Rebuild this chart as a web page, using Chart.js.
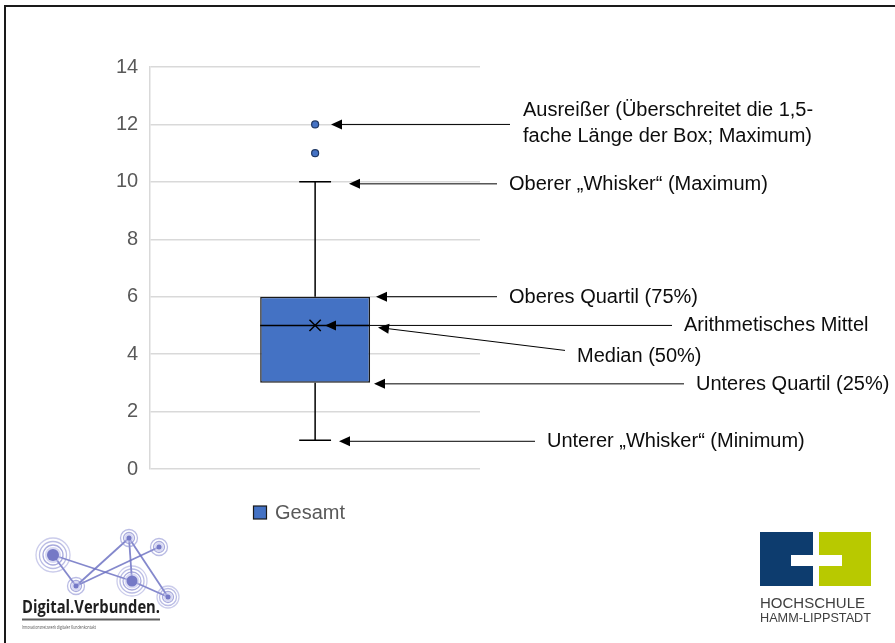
<!DOCTYPE html>
<html>
<head>
<meta charset="utf-8">
<script src="https://cdn.jsdelivr.net/npm/chart.js@4.4.1/dist/chart.umd.min.js"></script>
<style>
  html, body { margin: 0; padding: 0; background: #fff; }
  #wrap { position: relative; width: 895px; height: 643px; }
  canvas { display: block; }
</style>
</head>
<body>
<div id="wrap"><canvas id="c" width="895" height="643"></canvas></div>
<script>
// ---- data ----
const categories = ['Gesamt'];
const whiskerMin = [1];
const quartil1 = [3];
const medians = [5];
const means = [5];
const quartil3 = [6];
const whiskerMax = [10];
const outlierValues = [11, 12];
const yTickMin = 0, yTickMax = 14, yTickStep = 2;

// annotation texts and the value each arrow points at
const annotationTexts = [
  ['Ausreißer (Überschreitet die 1,5-', 'fache Länge der Box; Maximum)'],
  ['Oberer \u201EWhisker\u201C (Maximum)'],
  ['Oberes Quartil (75%)'],
  ['Arithmetisches Mittel'],
  ['Median (50%)'],
  ['Unteres Quartil (25%)'],
  ['Unterer \u201EWhisker\u201C (Minimum)']
];
const annotationTargets = [12, 10, 6, 5, 5, 3, 1];

// layout of annotations (pixels): arrow tip x, line end x, text x, dy of arrow, text offsets
const annotationLayout = [
  { tipX: 331, endX: 510, textX: 523, dyTip: 0, dyEnd: 0, lineDy: [-14, 12] },
  { tipX: 349, endX: 497, textX: 509, dyTip: 2, dyEnd: 2, lineDy: [1] },
  { tipX: 376, endX: 497, textX: 509, dyTip: 0, dyEnd: 0, lineDy: [1] },
  { tipX: 325, endX: 672, textX: 684, dyTip: 0, dyEnd: 0, lineDy: [0] },
  { tipX: 378, endX: 565, textX: 577, dyTip: 2, dyEnd: 25, lineDy: [29] },
  { tipX: 374, endX: 684, textX: 696, dyTip: 1, dyEnd: 1, lineDy: [1] },
  { tipX: 339, endX: 535, textX: 547, dyTip: 1, dyEnd: 1, lineDy: [0] }
];

const FONT = "'Liberation Sans', Arial, sans-serif";
const BOX_BLUE = '#4472C4';
const BOX_INDEX = 2;

function arrow(ctx, x1, y1, x2, y2) {
  const ang = Math.atan2(y2 - y1, x2 - x1);
  const L = 11, H = 5;
  ctx.save();
  ctx.strokeStyle = '#000';
  ctx.lineWidth = 1;
  ctx.beginPath();
  ctx.moveTo(x1, y1);
  ctx.lineTo(x2 - Math.cos(ang) * L * 0.8, y2 - Math.sin(ang) * L * 0.8);
  ctx.stroke();
  ctx.fillStyle = '#000';
  ctx.beginPath();
  ctx.moveTo(x2, y2);
  ctx.lineTo(x2 - Math.cos(ang) * L + Math.sin(ang) * H, y2 - Math.sin(ang) * L - Math.cos(ang) * H);
  ctx.lineTo(x2 - Math.cos(ang) * L - Math.sin(ang) * H, y2 - Math.sin(ang) * L + Math.cos(ang) * H);
  ctx.closePath();
  ctx.fill();
  ctx.restore();
}

const boxPlugin = {
  id: 'boxParts',
  afterDatasetDraw(chart, args) {
    if (args.index !== BOX_INDEX) return;
    const ctx = chart.ctx;
    const y = chart.scales.y;
    const meta = chart.getDatasetMeta(BOX_INDEX);
    meta.data.forEach((el, i) => {
      const x = el.x, w = el.width;
      const cap = w * 0.145;
      ctx.save();
      ctx.strokeStyle = '#000';
      ctx.lineWidth = 1.5;
      ctx.beginPath();
      ctx.moveTo(x, y.getPixelForValue(quartil3[i]));
      ctx.lineTo(x, y.getPixelForValue(whiskerMax[i]));
      ctx.moveTo(x - cap, y.getPixelForValue(whiskerMax[i]));
      ctx.lineTo(x + cap, y.getPixelForValue(whiskerMax[i]));
      ctx.moveTo(x, y.getPixelForValue(quartil1[i]));
      ctx.lineTo(x, y.getPixelForValue(whiskerMin[i]));
      ctx.moveTo(x - cap, y.getPixelForValue(whiskerMin[i]));
      ctx.lineTo(x + cap, y.getPixelForValue(whiskerMin[i]));
      ctx.moveTo(x - w / 2, y.getPixelForValue(medians[i]));
      ctx.lineTo(x + w / 2, y.getPixelForValue(medians[i]));
      ctx.stroke();
      ctx.restore();
    });
  },
  afterDraw(chart) {
    const ctx = chart.ctx;
    const y = chart.scales.y;
    // frame
    ctx.save();
    ctx.strokeStyle = '#1a1a1a';
    ctx.lineWidth = 2;
    ctx.beginPath();
    ctx.moveTo(5, 643);
    ctx.lineTo(5, 6);
    ctx.lineTo(895, 6);
    ctx.stroke();
    ctx.restore();

    // annotations
    ctx.save();
    ctx.font = '20px ' + FONT;
    ctx.fillStyle = '#0d0d0d';
    ctx.textBaseline = 'middle';
    annotationTexts.forEach((lines, k) => {
      const L = annotationLayout[k];
      const ty = y.getPixelForValue(annotationTargets[k]);
      arrow(ctx, L.endX, ty + L.dyEnd, L.tipX, ty + L.dyTip);
      const baseY = ty + L.dyTip;
      lines.forEach((t, j) => {
        ctx.fillText(t, L.textX, baseY + L.lineDy[j]);
      });
    });
    ctx.restore();

    // legend
    ctx.save();
    ctx.fillStyle = BOX_BLUE;
    ctx.strokeStyle = '#1a1a1a';
    ctx.lineWidth = 1.2;
    ctx.fillRect(253.5, 506, 13, 13);
    ctx.strokeRect(253.5, 506, 13, 13);
    ctx.fillStyle = '#595959';
    ctx.font = '20px ' + FONT;
    ctx.textBaseline = 'middle';
    ctx.fillText(categories[0], 275, 513);
    ctx.restore();

    drawDigitalLogo(ctx);
    drawHshlLogo(ctx);
  }
};

function drawDigitalLogo(ctx) {
  ctx.save();
  const nodes = {
    A: [53, 555, 6, [10, 13.5, 17]],
    B: [76, 586, 2.5, [5.5, 8.5]],
    C: [129, 538, 2.5, [5.5, 8.5]],
    D: [159, 547, 2.5, [5.5, 8.5]],
    E: [132, 581, 5.5, [9, 12, 15]],
    F: [168, 597, 2.5, [5.5, 8.5, 11]]
  };
  const edges = [['A','B'],['B','C'],['B','D'],['C','E'],['C','F'],['A','E'],['E','F']];
  ctx.strokeStyle = 'rgba(110,115,195,0.85)';
  ctx.lineWidth = 1.8;
  edges.forEach(([a, b]) => {
    ctx.beginPath();
    ctx.moveTo(nodes[a][0], nodes[a][1]);
    ctx.lineTo(nodes[b][0], nodes[b][1]);
    ctx.stroke();
  });
  Object.values(nodes).forEach(([x, yy, r, rings]) => {
    rings.forEach((rr, k) => {
      ctx.strokeStyle = 'rgba(140,143,210,' + (0.75 - k * 0.15) + ')';
      ctx.lineWidth = 1.3;
      ctx.beginPath();
      ctx.arc(x, yy, rr, 0, Math.PI * 2);
      ctx.stroke();
    });
    ctx.fillStyle = 'rgba(190,192,235,0.6)';
    ctx.beginPath(); ctx.arc(x, yy, r + 2, 0, Math.PI * 2); ctx.fill();
    ctx.fillStyle = '#7579c6';
    ctx.beginPath(); ctx.arc(x, yy, r, 0, Math.PI * 2); ctx.fill();
  });
  ctx.fillStyle = '#1e1e1e';
  ctx.font = "bold 17px 'Open Sans', sans-serif";
  ctx.textBaseline = 'alphabetic';
  ctx.fillText('Digital.Verbunden.', 22, 613, 138);
  ctx.strokeStyle = '#606060';
  ctx.lineWidth = 2;
  ctx.beginPath(); ctx.moveTo(22, 619.5); ctx.lineTo(160, 619.5); ctx.stroke();
  ctx.fillStyle = '#555';
  ctx.font = "5.5px 'Open Sans', sans-serif";
  ctx.fillText('Innovationsnetzwerk digitaler Kundenkontakt', 22, 629, 74);
  ctx.restore();
}

function drawHshlLogo(ctx) {
  ctx.save();
  ctx.fillStyle = '#0d3c6e';
  ctx.fillRect(760, 532, 53, 54);
  ctx.fillStyle = '#b8c900';
  ctx.fillRect(819, 532, 52, 54);
  ctx.fillStyle = '#fff';
  ctx.fillRect(791, 555, 51, 11);
  ctx.fillStyle = '#3f3f3f';
  ctx.textBaseline = 'alphabetic';
  ctx.font = "15px 'Liberation Sans', Arial, sans-serif";
  ctx.fillText('HOCHSCHULE', 760, 608, 111);
  ctx.font = "13px 'Liberation Sans Narrow', 'Liberation Sans', Arial, sans-serif";
  ctx.fillText('HAMM-LIPPSTADT', 760, 622, 111);
  ctx.restore();
}

const yTicks = [];
for (let v = yTickMin; v <= yTickMax; v += yTickStep) yTicks.push(v);

new Chart(document.getElementById('c'), {
  type: 'bar',
  data: {
    labels: categories,
    datasets: [
      {
        type: 'line',
        label: 'Mittelwert',
        data: means,
        showLine: false,
        pointStyle: 'crossRot',
        pointRadius: 8,
        pointBorderColor: '#000',
        pointBorderWidth: 1.5,
        order: 1
      },
      {
        type: 'line',
        label: 'Ausreißer',
        data: outlierValues.map(v => ({ x: categories[0], y: v })),
        showLine: false,
        pointStyle: 'circle',
        pointRadius: 3.5,
        pointBackgroundColor: BOX_BLUE,
        pointBorderColor: '#1f3864',
        pointBorderWidth: 1.2,
        order: 2
      },
      {
        type: 'bar',
        label: 'Gesamt',
        data: categories.map((c, i) => [quartil1[i], quartil3[i]]),
        backgroundColor: BOX_BLUE,
        borderColor: '#1a1a1a',
        borderWidth: 1.5,
        borderSkipped: false,
        barPercentage: 1 / 3,
        categoryPercentage: 1,
        grouped: false,
        order: 3
      }
    ]
  },
  options: {
    responsive: false,
    animation: false,
    events: [],
    layout: { padding: { left: 104, right: 415, top: 67, bottom: 174 } },
    plugins: { legend: { display: false }, tooltip: { enabled: false } },
    scales: {
      x: { display: false, offset: true },
      y: {
        min: yTickMin,
        max: yTickMax,
        afterBuildTicks(scale) { scale.ticks = yTicks.map(v => ({ value: v })); },
        ticks: { color: '#595959', font: { size: 20, family: FONT }, padding: 12 },
        grid: { color: '#d9d9d9', lineWidth: 1.5, drawTicks: false },
        border: { display: true, color: '#d9d9d9', width: 1.5 }
      }
    }
  },
  plugins: [boxPlugin]
});
</script>
</body>
</html>
